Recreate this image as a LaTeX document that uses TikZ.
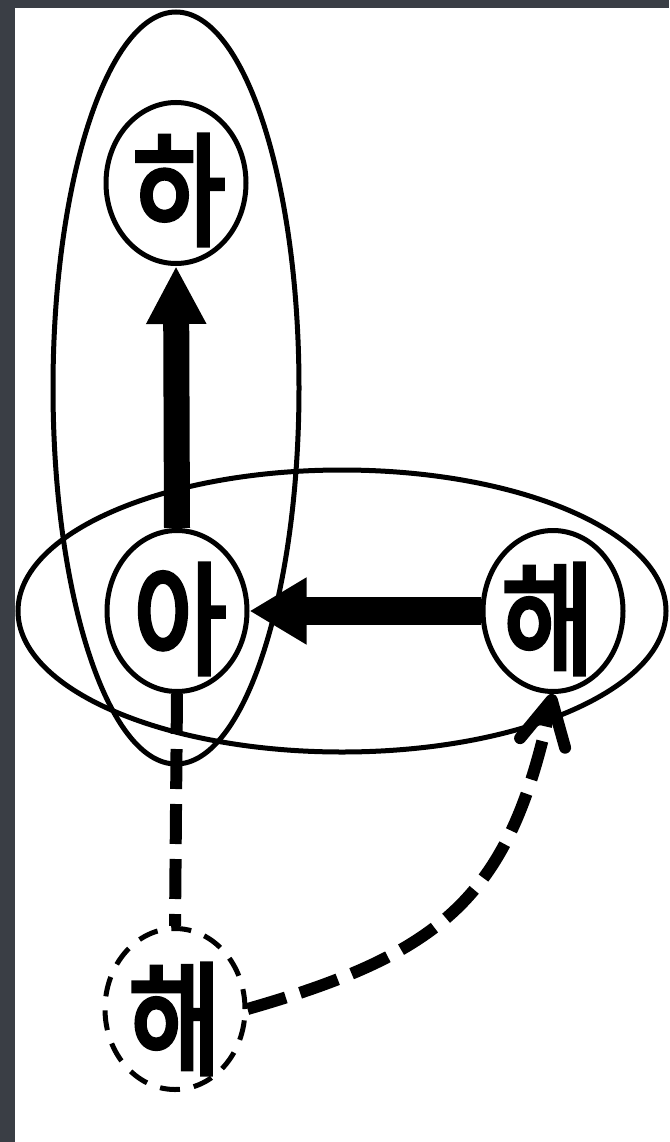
\documentclass[tikz,border=0pt]{standalone}
\usepackage{fontspec}
\newfontfamily\kr[FakeStretch=0.82,FakeBold=4]{Noto Sans CJK KR}
\usetikzlibrary{arrows.meta,shapes.geometric}
\definecolor{framegray}{HTML}{3A3E45}
\begin{document}
\begin{tikzpicture}[x=1pt,y=-1pt,
  cnode/.style={ellipse,draw,line width=5pt,minimum width=140pt,minimum height=161pt,inner sep=0pt},
  dnode/.style={cnode,dash pattern=on 20pt off 14pt},
  ktext/.style={font=\kr\fontsize{122}{122}\selectfont,inner sep=0pt},
  group/.style={draw,line width=5pt},
  bigarrow/.style={line width=26pt,-{Triangle[length=58pt,width=56pt]}},
  dashline/.style={line width=12pt,dash pattern=on 40pt off 15pt},
]
\useasboundingbox (0,0) rectangle (669,1142);
\fill[framegray] (0,0) rectangle (669,1142);
\fill[white] (15,8) rectangle (669,1142);
% group ellipses
\draw[group] (176,388) ellipse [x radius=123pt, y radius=376pt];
\draw[group] (342,611) ellipse [x radius=324pt, y radius=141pt];
% circles
\node[cnode] (ha) at (176,183) {};
\node[cnode] (a) at (177,611) {};
\node[cnode] (hae) at (553,611) {};
\node[dnode] (haed) at (175,1009) {};
% texts
\node[ktext] (tha) at (179,190) {하};
\node[ktext] (ta) at (180,619) {아};
\node[ktext] (thae) at (548,619) {해};
\node[ktext] (thaed) at (175,1019) {해};
% connectors
\draw[bigarrow] (a.north) -- (ha.south);
\draw[bigarrow,line width=28pt,-{Triangle[length=57pt,width=63pt]}] (hae.west) -- (a.east);
\draw[dashline] (a.south) -- (haed.north);
\draw[dashline,-{Straight Barb[length=44pt,width=46pt,round]}] (haed.east) to[out=16,in=-102,looseness=1.2] (hae.south);
\end{tikzpicture}
\end{document}
